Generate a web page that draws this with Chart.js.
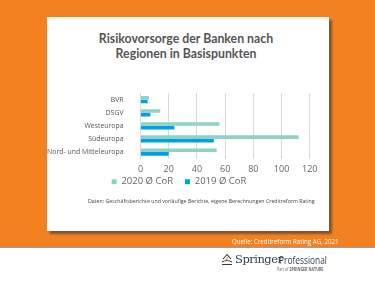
<!DOCTYPE html>
<html>
<head>
<meta charset="utf-8">
<script src="https://cdn.jsdelivr.net/npm/chart.js@4/dist/chart.umd.min.js"></script>
<style>
  html, body { margin: 0; padding: 0; }
  body { width: 375px; height: 281px; position: relative; overflow: hidden; background: #fff; font-family: "Open Sans", sans-serif; }
  #orange { position: absolute; left: 0; top: 0; width: 375px; height: 247px; background: #F38120; border-bottom: 1px solid #8aa3b8; }
  #card { position: absolute; left: 47px; top: 17px; width: 282px; height: 214px; background: #fff; box-shadow: 3px 3px 2px rgba(90,70,50,0.75); }
  #title { position: absolute; left: 47px; top: 31px; width: 278px; text-align: center; font-family: Lato, sans-serif; font-weight: bold; font-size: 12.3px; line-height: 15px; color: #565656; }
  #chartBox { position: absolute; left: 47px; top: 80px; width: 281px; height: 132px; }
  #note { position: absolute; left: 88px; top: 197px; font-family: "Open Sans", sans-serif; font-size: 5.6px; color: #444; white-space: nowrap; transform: scaleX(0.94); transform-origin: left top; }
  #quelle { position: absolute; left: 232px; top: 237px; font-family: "Liberation Sans Narrow", "Open Sans", sans-serif; font-size: 6.2px; color: #fff; white-space: nowrap; }
  #logo { position: absolute; left: 221px; top: 253px; }
  #springer { position: absolute; left: 235px; top: 252px; font-family: "DejaVu Serif", serif; font-size: 11.5px; color: #2e3f55; white-space: nowrap; letter-spacing: -0.5px; }
  #prof { position: absolute; left: 279px; top: 252px; font-family: "Open Sans", sans-serif; font-size: 11px; color: #2e3f55; white-space: nowrap; transform: scaleX(0.76); transform-origin: left top; }
  #partof { position: absolute; left: 277px; top: 266px; font-family: "Open Sans", sans-serif; font-size: 4.6px; color: #666; white-space: nowrap; transform: scaleX(0.8); transform-origin: left top; }
</style>
</head>
<body>
<div id="orange"></div>
<div id="card"></div>
<div id="title">Risikovorsorge der Banken nach<br>Regionen in Basispunkten</div>
<div id="chartBox"><canvas id="chart" width="281" height="132"></canvas></div>
<div id="note">Daten: Geschäftsberichte und vorläufige Berichte, eigene Berechnungen Creditreform Rating</div>
<div id="quelle">Quelle: Creditreform Rating AG, 2021</div>
<svg id="logo" width="12" height="13" viewBox="0 0 12 13">
  <path d="M2 6 L6 1.5 L10 6 M1 9 Q6 6 11 9 M1 11.5 L11 11.5" fill="none" stroke="#2e3f55" stroke-width="1.1"/>
  <path d="M4 8 L7 4" stroke="#F38120" stroke-width="1.2"/>
</svg>
<div id="springer">Springer</div>
<div id="prof">Professional</div>
<div id="partof">Part of <b>SPRINGER NATURE</b></div>

<script>
// Chart data
const categories = ['BVR', 'DSGV', 'Westeuropa', 'Südeuropa', 'Nord- und Mitteleuropa'];
const cor2020 = [6, 14, 56, 112, 54];
const cor2019 = [5, 7, 24, 52, 20];
const xTicks = [0, 20, 40, 60, 80, 100, 120];
const seriesLabels = ['2020 Ø CoR', '2019 Ø CoR'];

// legend sits right under the tick labels in the original
const legendNudge = {
    id: 'legendNudge',
    afterLayout(chart) {
        chart.legend.top -= 15.5;
        chart.legend.bottom -= 15.5;
    }
};

const ctx = document.getElementById('chart').getContext('2d');
new Chart(ctx, {
    type: 'bar',
    data: {
        labels: categories,
        datasets: [{
            label: seriesLabels[0],
            data: cor2020,
            backgroundColor: '#8ED3C5',
            categoryPercentage: 0.55,
            barPercentage: 1
        }, {
            label: seriesLabels[1],
            data: cor2019,
            backgroundColor: '#00A0E6',
            categoryPercentage: 0.55,
            barPercentage: 1
        }]
    },
    options: {
        indexAxis: 'y',
        responsive: false,
        animation: false,
        layout: { padding: { left: 0, right: 17, top: 8, bottom: 0 } },
        plugins: {
            tooltip: { enabled: false },
            legend: {
                position: 'bottom',
                labels: {
                    color: '#666',
                    font: { family: 'Open Sans', size: 9.5 },
                    boxWidth: 5,
                    boxHeight: 5,
                    padding: 12
                }
            }
        },
        scales: {
            x: {
                min: 0,
                max: 120,
                afterBuildTicks: (scale) => { scale.ticks = xTicks.map(v => ({ value: v })); },
                grid: { color: '#d9d9d9', drawTicks: false },
                border: { display: false },
                ticks: { color: '#666', font: { family: 'Open Sans', size: 9, lineHeight: 0.1 }, padding: 10.5 }
            },
            y: {
                grid: { display: false },
                border: { display: false },
                afterFit: (scale) => { scale.width = 93.5; },
                ticks: { color: '#595959', font: { family: 'Open Sans', size: 6.9 }, padding: 9, autoSkip: false }
            }
        }
    },
    plugins: [legendNudge]
});
</script>
</body>
</html>
